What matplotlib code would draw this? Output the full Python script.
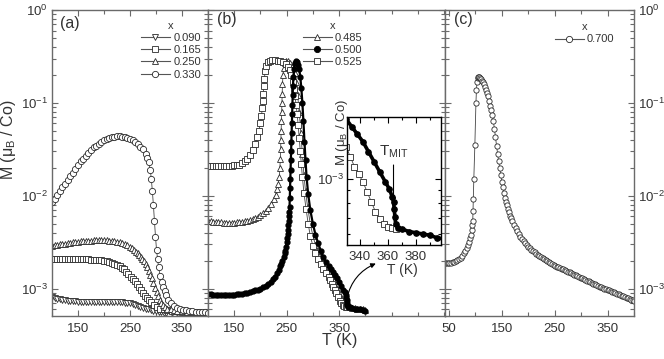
import numpy as np
import matplotlib
matplotlib.use("Agg")
import matplotlib.pyplot as plt
from matplotlib.lines import Line2D
from matplotlib.ticker import LogLocator, NullFormatter

plt.rcParams['font.family'] = ['Liberation Sans', 'DejaVu Sans']
plt.rcParams['mathtext.fontset'] = 'custom'
plt.rcParams['mathtext.rm'] = 'Liberation Sans'
plt.rcParams['mathtext.it'] = 'Liberation Sans:italic'
plt.rcParams['mathtext.bf'] = 'Liberation Sans:bold'

# ---------------- data (T in K, log10 of M in muB/Co) ----------------
# panel (a)
t_a330 = [100,105,110,115,120,125,130,135,140,145,150,155,160,165,170,175,180,185,190,195,
          200,205,210,215,220,225,230,235,240,245,250,255,260,265,270,275,280,283,286,289,
          291,293,295,297,299,301,303,305,308,311,314,317,320,324,328,334,340,346,352,358,
          364,370,376,382,388,394,400]
lm_a330 = [-2.07,-2.03,-1.99,-1.95,-1.91,-1.87,-1.83,-1.79,-1.75,-1.71,-1.67,-1.63,-1.60,-1.57,
           -1.54,-1.51,-1.48,-1.46,-1.44,-1.42,-1.40,-1.39,-1.38,-1.37,-1.365,-1.36,-1.36,-1.365,
           -1.37,-1.38,-1.39,-1.40,-1.42,-1.44,-1.47,-1.50,-1.55,-1.59,-1.64,-1.72,-1.82,-1.95,
           -2.10,-2.27,-2.44,-2.58,-2.68,-2.77,-2.86,-2.93,-2.98,-3.03,-3.07,-3.12,-3.16,-3.19,
           -3.21,-3.22,-3.23,-3.235,-3.24,-3.245,-3.25,-3.25,-3.255,-3.255,-3.26]

t_a250 = [100,105,110,115,120,125,130,135,140,145,150,155,160,165,170,175,180,185,190,195,
          200,205,210,215,220,225,230,235,240,245,250,254,258,262,265,268,271,274,277,280,
          283,286,289,292,295,298,301,304,307,310,314,318,322,328,334,340,350,360,370,380,
          390,400]
lm_a250 = [-2.54,-2.535,-2.53,-2.525,-2.52,-2.515,-2.51,-2.505,-2.50,-2.497,-2.495,-2.492,
           -2.49,-2.487,-2.485,-2.483,-2.48,-2.48,-2.48,-2.48,-2.48,-2.482,-2.485,-2.487,-2.49,
           -2.495,-2.50,-2.51,-2.52,-2.535,-2.55,-2.565,-2.58,-2.605,-2.62,-2.64,-2.66,-2.68,
           -2.70,-2.73,-2.77,-2.81,-2.85,-2.89,-2.94,-2.99,-3.04,-3.08,-3.12,-3.15,-3.18,-3.20,
           -3.215,-3.225,-3.235,-3.24,-3.245,-3.25,-3.25,-3.255,-3.255,-3.26]

t_a165 = [100,105,110,115,120,125,130,135,140,145,150,155,160,165,170,175,180,185,190,195,
          200,205,210,215,220,225,230,235,239,243,247,251,255,259,263,267,271,275,279,283,
          287,291,296,302,308,315,322,330,340,350,360,370,380,390,400]
lm_a165 = [-2.68,-2.68,-2.68,-2.68,-2.68,-2.68,-2.68,-2.68,-2.68,-2.68,-2.68,-2.68,-2.682,
           -2.684,-2.686,-2.688,-2.69,-2.692,-2.694,-2.697,-2.70,-2.705,-2.71,-2.72,-2.73,
           -2.745,-2.76,-2.775,-2.79,-2.82,-2.845,-2.87,-2.895,-2.92,-2.95,-2.98,-3.01,-3.045,
           -3.075,-3.10,-3.125,-3.145,-3.175,-3.20,-3.215,-3.225,-3.235,-3.24,-3.245,-3.25,
           -3.25,-3.255,-3.255,-3.26,-3.26]

t_a090 = [100,105,110,115,120,125,130,135,140,145,150,155,160,165,170,175,180,185,190,195,
          200,205,210,215,220,225,230,235,240,245,250,255,260,265,270,275,280,285,290,295,
          300,305,310,315,320,330,340,350,360,370,380,390,400]
lm_a090 = [-3.09,-3.10,-3.11,-3.115,-3.12,-3.125,-3.13,-3.132,-3.135,-3.137,-3.14,-3.14,
           -3.14,-3.14,-3.14,-3.14,-3.14,-3.14,-3.14,-3.14,-3.14,-3.14,-3.14,-3.14,-3.14,
           -3.142,-3.145,-3.147,-3.15,-3.155,-3.16,-3.167,-3.175,-3.185,-3.195,-3.205,-3.215,
           -3.225,-3.235,-3.24,-3.245,-3.25,-3.255,-3.258,-3.26,-3.262,-3.264,-3.266,-3.268,
           -3.27,-3.272,-3.274,-3.275]

# panel (b)
t_b485 = [100,105,110,115,120,125,130,135,140,145,150,155,160,165,170,175,180,185,190,195,
          200,205,210,215,220,225,229,232,234,236,237,238,238.5,239,239.5,240,240.5,241,241.5,
          242,243,244,246,249,253,257,261,265,268,271,274,277,280,283,286,290,295,300,305,
          310,315,320,325,330,335,340,345,350,355,360,365,370,375,380,385,390,395,400]
lm_b485 = [-2.27,-2.275,-2.28,-2.283,-2.285,-2.288,-2.29,-2.29,-2.29,-2.29,-2.29,-2.288,
           -2.285,-2.28,-2.275,-2.268,-2.26,-2.25,-2.24,-2.225,-2.21,-2.19,-2.16,-2.13,-2.09,
           -2.04,-1.99,-1.93,-1.87,-1.80,-1.70,-1.60,-1.50,-1.40,-1.30,-1.20,-1.10,-1.00,-0.90,
           -0.80,-0.70,-0.62,-0.57,-0.55,-0.55,-0.57,-0.61,-0.68,-0.78,-0.92,-1.10,-1.32,-1.55,
           -1.78,-1.95,-2.12,-2.30,-2.43,-2.53,-2.60,-2.66,-2.71,-2.76,-2.81,-2.86,-2.92,-2.98,
           -3.05,-3.11,-3.16,-3.19,-3.20,-3.205,-3.21,-3.215,-3.22,-3.225,-3.23]

t_b500 = [100,105,110,115,120,125,130,135,140,145,150,155,160,165,170,175,180,185,190,195,
          200,205,210,215,220,224,228,232,235,238,240,242,244,246,247,248.5,250,251,252,253,
          253.5,254,254.5,255,255.5,256,256.5,257,257.5,258,258.5,259,259.5,260,260.5,261,
          261.5,262,263,264,266,268,270,272,274,276,278,280,282,284,286,288,291,295,300,305,
          310,315,320,325,330,334,338,342,346,350,354,358,361,363,364,364.5,365,365.5,367,
          370,375,380,385,390,395,400]
lm_b500 = [-3.06,-3.062,-3.065,-3.068,-3.07,-3.07,-3.07,-3.07,-3.07,-3.068,-3.065,-3.062,
           -3.06,-3.055,-3.05,-3.045,-3.04,-3.03,-3.02,-3.01,-3.00,-2.985,-2.97,-2.95,-2.93,
           -2.90,-2.87,-2.83,-2.80,-2.76,-2.73,-2.70,-2.66,-2.62,-2.59,-2.55,-2.50,-2.46,-2.41,
           -2.37,-2.32,-2.27,-2.22,-2.17,-2.12,-2.02,-1.92,-1.82,-1.72,-1.62,-1.52,-1.42,-1.32,
           -1.22,-1.12,-1.02,-0.92,-0.82,-0.72,-0.63,-0.57,-0.55,-0.56,-0.59,-0.64,-0.72,-0.84,
           -1.00,-1.20,-1.42,-1.62,-1.80,-1.98,-2.15,-2.30,-2.42,-2.51,-2.59,-2.66,-2.71,-2.76,
           -2.79,-2.82,-2.85,-2.89,-2.93,-2.97,-3.01,-3.04,-3.07,-3.09,-3.12,-3.15,-3.18,
           -3.195,-3.20,-3.21,-3.215,-3.22,-3.225,-3.235,-3.24]

t_b525 = [100,105,110,115,120,125,130,135,140,145,150,155,160,165,170,175,180,185,190,194,
          197,200,202,203.5,204.5,205.5,206.5,207.5,209,211,214,218,223,228,233,238,243,248,
          252,256,259,262,264,266,268,270,272,274,276,278,280,283,287,291,295,300,305,310,
          315,320,325,330,333,336,339,342,345,348,351,354,357,360,363,366]
lm_b525 = [-1.68,-1.68,-1.68,-1.68,-1.68,-1.68,-1.68,-1.68,-1.678,-1.675,-1.672,-1.668,
           -1.665,-1.65,-1.63,-1.60,-1.56,-1.51,-1.44,-1.37,-1.30,-1.22,-1.14,-1.06,-0.98,
           -0.90,-0.82,-0.74,-0.66,-0.60,-0.56,-0.545,-0.54,-0.54,-0.545,-0.55,-0.56,-0.58,
           -0.61,-0.65,-0.70,-0.77,-0.85,-0.93,-1.02,-1.12,-1.24,-1.38,-1.52,-1.66,-1.80,-1.97,
           -2.14,-2.30,-2.43,-2.54,-2.62,-2.68,-2.74,-2.79,-2.83,-2.87,-2.91,-2.95,-2.98,-3.01,
           -3.05,-3.09,-3.13,-3.16,-3.18,-3.19,-3.195,-3.20]

# panel (c)
t_c700 = [42,45,48,51,54,57,60,63,66,69,72,75,78,81,84,86,88,90,91.5,93,94,95,95.5,96,97,
          99,101,102,103,104,105,106,107,108,110,112,114,116,118,120,122,124,126,128,130,132,
          134,136,138,140,142,144,146,148,150,152,154,156,158,160,162,164,166,168,170,173,176,
          179,182,185,188,191,194,197,200,203,206,209,212,215,218,221,224,227,230,233,236,239,
          242,245,248,251,254,257,260,263,266,269,272,275,278,281,284,287,290,293,296,299,302,
          305,308,311,314,317,320,323,326,329,332,335,338,341,344,347,350,353,356,359,362,365,
          368,371,374,377,380,383,386,389,392,395,398,400]
lm_c700 = [-2.72,-2.72,-2.72,-2.72,-2.72,-2.717,-2.713,-2.705,-2.695,-2.683,-2.667,-2.647,
           -2.622,-2.595,-2.563,-2.535,-2.50,-2.46,-2.42,-2.37,-2.32,-2.27,-2.16,-2.03,-1.82,
           -1.45,-1.00,-0.86,-0.77,-0.73,-0.72,-0.72,-0.72,-0.73,-0.74,-0.76,-0.78,-0.80,-0.83,
           -0.86,-0.89,-0.93,-0.98,-1.03,-1.08,-1.13,-1.20,-1.28,-1.37,-1.46,-1.55,-1.63,-1.70,
           -1.78,-1.85,-1.91,-1.97,-2.02,-2.065,-2.105,-2.145,-2.18,-2.215,-2.245,-2.275,-2.315,
           -2.35,-2.385,-2.415,-2.44,-2.465,-2.49,-2.51,-2.53,-2.55,-2.565,-2.58,-2.595,-2.61,
           -2.625,-2.638,-2.65,-2.662,-2.674,-2.685,-2.696,-2.707,-2.717,-2.727,-2.736,-2.745,
           -2.754,-2.762,-2.77,-2.778,-2.786,-2.794,-2.802,-2.81,-2.818,-2.826,-2.834,-2.842,
           -2.85,-2.858,-2.866,-2.874,-2.882,-2.89,-2.898,-2.906,-2.914,-2.922,-2.93,-2.938,
           -2.946,-2.954,-2.962,-2.97,-2.978,-2.985,-2.992,-2.999,-3.006,-3.013,-3.02,-3.027,
           -3.034,-3.041,-3.048,-3.055,-3.062,-3.069,-3.076,-3.083,-3.09,-3.097,-3.104,-3.111,
           -3.118,-3.125,-3.13]

legend_a = ['0.090', '0.165', '0.250', '0.330']
legend_b = ['0.485', '0.500', '0.525']
legend_c = ['0.700']

# ---------------- figure ----------------
W, H = 664, 359
fig = plt.figure(figsize=(W / 100, H / 100), dpi=100)


def rect(l, r, t, b):
    return [l / W, 1 - b / H, (r - l) / W, (b - t) / H]


TXT = '#333333'
SP = '#6a6a6a'
EDGE = '#2a2a2a'

ax_a = fig.add_axes(rect(52, 208, 10, 316))
ax_b = fig.add_axes(rect(208, 445, 10, 316))
ax_c = fig.add_axes(rect(445, 634, 10, 316))
ylo, yhi = 10 ** -3.295, 1.0


def style(ax, xlim, major, minor):
    ax.set_yscale('log')
    ax.set_ylim(ylo, yhi)
    ax.set_xlim(*xlim)
    ax.set_xticks(major)
    ax.set_xticks(minor, minor=True)
    ax.yaxis.set_major_locator(LogLocator(base=10, numticks=10))
    ax.yaxis.set_minor_locator(LogLocator(base=10, subs=np.arange(2, 10), numticks=20))
    ax.yaxis.set_minor_formatter(NullFormatter())
    ax.tick_params(which='both', direction='in', top=True, right=True, left=True,
                   bottom=True, color=SP, width=0.8, labelcolor=TXT, labelsize=9.5)
    ax.tick_params(which='major', length=4.5)
    ax.tick_params(which='minor', length=3)
    for s in ax.spines.values():
        s.set_color(SP)
        s.set_linewidth(1.0)


style(ax_a, (100, 400), [150, 250, 350], [100, 200, 300, 400])
style(ax_b, (100, 552), [150, 250, 350], [200, 300, 400, 450, 500, 550])
style(ax_c, (42.5, 400), [50, 150, 250, 350], [100, 200, 300, 400])
ax_a.tick_params(axis='y', labelleft=True, labelright=False, pad=3)
ax_b.tick_params(axis='y', labelleft=False, labelright=False)
ax_c.tick_params(axis='y', labelleft=False, labelright=True, pad=3)
for ax in (ax_a, ax_b, ax_c):
    ax.tick_params(axis='x', pad=5)


def arr(v):
    return np.asarray(v, dtype=float)


mk = dict(mfc='white', mec=EDGE, mew=0.6, color='#444444', lw=0.6)
ax_a.plot(arr(t_a090), 10 ** arr(lm_a090), marker='v', ms=4.5, **mk)
ax_a.plot(arr(t_a165), 10 ** arr(lm_a165), marker='s', ms=4.2, **mk)
ax_a.plot(arr(t_a250), 10 ** arr(lm_a250), marker='^', ms=4.8, **mk)
ax_a.plot(arr(t_a330), 10 ** arr(lm_a330), marker='o', ms=4.5, **mk)

ax_b.plot(arr(t_b485), 10 ** arr(lm_b485), marker='^', ms=4.0, **mk)
ax_b.plot(arr(t_b525), 10 ** arr(lm_b525), marker='s', ms=4.0, **mk)
ax_b.plot(arr(t_b500), 10 ** arr(lm_b500), marker='o', ms=3.5, mfc='black', mec='black',
          color='black', lw=1.6)

ax_c.plot(arr(t_c700), 10 ** arr(lm_c700), marker='o', ms=3.8, **mk)


def handles(markers, labels, fills):
    out = []
    for m, l, f in zip(markers, labels, fills):
        out.append(Line2D([], [], color='#555555', lw=0.8, marker=m, ms=4.5,
                          mfc=f, mec=EDGE if f == 'white' else 'black', mew=0.6, label=l))
    return out


legkw = dict(frameon=False, fontsize=8, title_fontsize=8, handlelength=2.6,
             handletextpad=0.3, labelspacing=0.2, borderpad=0, borderaxespad=0)
la = ax_a.legend(handles=handles(['v', 's', '^', 'o'], legend_a, ['white'] * 4), title='x',
                 loc='upper right', bbox_to_anchor=(0.955, 0.965), **legkw)
lb = ax_b.legend(handles=handles(['^', 'o', 's'], legend_b, ['white', 'black', 'white']),
                 title='x', loc='upper left', bbox_to_anchor=(0.40, 0.965), **legkw)
lc = ax_c.legend(handles=handles(['o'], legend_c, ['white']), title='x',
                 loc='upper left', bbox_to_anchor=(0.58, 0.96), **legkw)
for lg in (la, lb, lc):
    for t in lg.get_texts():
        t.set_color(TXT)
    lg.get_title().set_color(TXT)

ax_a.text(0.05, 0.955, '(a)', transform=ax_a.transAxes, fontsize=11.5, color=TXT,
          ha='left', va='center')
ax_b.text(0.04, 0.97, '(b)', transform=ax_b.transAxes, fontsize=11.5, color=TXT,
          ha='left', va='center')
ax_c.text(0.045, 0.97, '(c)', transform=ax_c.transAxes, fontsize=11.5, color=TXT,
          ha='left', va='center')

fig.text(8 / W, 1 - 140 / H, 'M (μ$_{\\rm B}$ / Co)', rotation=90, ha='center', va='center',
         fontsize=11.5, color=TXT)
fig.text(340 / W, 1 - 341 / H, 'T (K)', ha='center', va='center', fontsize=11.5, color=TXT)

# curved arrow from main curve to inset
ax_b.annotate('', xy=(420, 10 ** -2.73), xytext=(365, 10 ** -3.10),
              arrowprops=dict(arrowstyle='-|>', color='black', lw=0.8, mutation_scale=7,
                              connectionstyle='arc3,rad=-0.25', shrinkA=0, shrinkB=0))

# ---------------- inset ----------------
ax_in = fig.add_axes(rect(347, 441, 117, 245))
ax_in.set_yscale('log')
ax_in.set_xlim(330.7, 398)
ax_in.set_ylim(10 ** -3.264, 10 ** -2.752)
ax_in.plot(arr(t_b525), 10 ** arr(lm_b525), marker='s', ms=4.4, **mk)
ax_in.plot(arr(t_b500), 10 ** arr(lm_b500), marker='o', ms=3.8, mfc='black', mec='black',
           color='black', lw=2.6)
ax_in.set_xticks([340, 360, 380])
ax_in.set_xticks([350, 370, 390], minor=True)
ax_in.yaxis.set_major_locator(LogLocator(base=10, numticks=10))
ax_in.yaxis.set_minor_locator(LogLocator(base=10, subs=np.arange(2, 10), numticks=20))
ax_in.yaxis.set_minor_formatter(NullFormatter())
ax_in.tick_params(which='both', direction='in', top=True, right=True, color='black',
                  width=0.8, labelcolor=TXT, labelsize=9.5)
ax_in.tick_params(which='major', length=4)
ax_in.tick_params(which='minor', length=2.5)
ax_in.tick_params(axis='x', pad=4)
ax_in.tick_params(axis='y', pad=2)
for s in ax_in.spines.values():
    s.set_color('black')
    s.set_linewidth(1.0)
ax_in.annotate('', xy=(364, 10 ** -3.096), xytext=(364, 10 ** -2.944),
               arrowprops=dict(arrowstyle='-|>', color='black', lw=0.8, mutation_scale=7,
                               shrinkA=0, shrinkB=0))
ax_in.text(364, 10 ** -2.89, 'T$_{\\rm MIT}$', ha='center', va='center', fontsize=11,
           color=TXT)
fig.text(342 / W, 1 - 133 / H, 'M (μ$_{\\rm B}$ / Co)', rotation=90, ha='center',
         va='center', fontsize=9.5, color=TXT)
fig.text(402 / W, 1 - 270 / H, 'T (K)', ha='center', va='center', fontsize=10, color=TXT)

fig.savefig('out.png', dpi=100)
